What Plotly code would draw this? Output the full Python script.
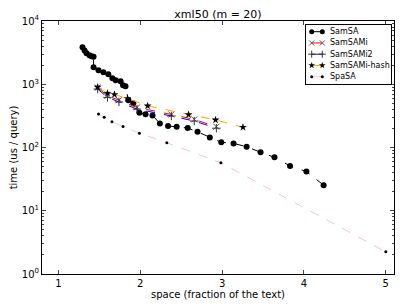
import plotly.graph_objects as go

# SamSA
samsa_x = [1.295, 1.32, 1.344, 1.38, 1.405, 1.43, 1.43, 1.49, 1.55, 1.61, 1.66, 1.70, 1.76, 1.79, 1.82,
           1.855, 1.915, 1.99, 2.065, 2.15, 2.24, 2.34, 2.445, 2.58, 2.70, 2.85, 2.99, 3.14, 3.30,
           3.47, 3.64, 3.83, 4.03, 4.24]
samsa_y = [3830, 3430, 3080, 2865, 2760, 2710, 1850, 1660, 1545, 1436, 1243, 1157, 1115, 964, 930,
           560, 502, 353, 337, 322, 240, 218, 213, 203, 177, 144, 121, 116, 103,
           84, 70, 51, 41.6, 25.4]

# SamSAMi
sami_x = [1.48, 1.60, 1.74, 1.96, 2.38, 2.66, 2.93]
sami_y = [887, 655, 560, 430, 333, 278, 213]

# SamSAMi2
sami2_x = [1.48, 1.60, 1.74, 1.96, 2.38, 2.66, 2.93]
sami2_y = [840, 620, 525, 405, 315, 262, 202]

# SamSAMi-hash
hash_x = [1.48, 1.60, 1.685, 1.845, 2.09, 2.59, 2.92, 3.255]
hash_y = [900, 720, 689, 595, 455, 331, 273, 209]

# SpaSA
spa_x = [1.49, 1.56, 1.655, 1.79, 1.99, 2.325, 2.985, 5.0]
spa_y = [339, 300, 256, 214, 168, 119, 57.4, 2.24]

series_names = ["SamSA", "SamSAMi", "SamSAMi2", "SamSAMi-hash", "SpaSA"]

x_ticks = [1, 2, 3, 4, 5]
y_ticks = [1, 10, 100, 1000, 10000]
y_ticklabels = ["10<sup>0</sup>", "10<sup>1</sup>", "10<sup>2</sup>", "10<sup>3</sup>", "10<sup>4</sup>"]

font = "DejaVu Sans"

styles = [
    dict(line=dict(color="black", dash="dash", width=1),
         marker=dict(symbol="circle", size=6, color="black")),
    dict(line=dict(color="red", dash="dash", width=1),
         marker=dict(symbol="x-thin", size=6, color="#555555", line=dict(width=1, color="#555555"))),
    dict(line=dict(color="blue", dash="dash", width=1),
         marker=dict(symbol="cross-thin", size=6, color="#333333", line=dict(width=1, color="#333333"))),
    dict(line=dict(color="orange", dash="dash", width=1),
         marker=dict(symbol="star", size=6, color="black")),
    dict(line=dict(color="pink", dash="dash", width=1),
         marker=dict(symbol="circle", size=3, color="black")),
]
data = [(samsa_x, samsa_y), (sami_x, sami_y), (sami2_x, sami2_y), (hash_x, hash_y), (spa_x, spa_y)]

fig = go.Figure()
for (xs, ys), name, st in zip(data, series_names, styles):
    fig.add_trace(go.Scatter(x=xs, y=ys, name=name, mode="lines+markers",
                             showlegend=False, **st))

# compact legend drawn in an inset axis (coordinates = legend-box pixels)
for i, (name, st) in enumerate(zip(series_names, styles)):
    row = 6.7 + i * 11.25
    leg_line = dict(st["line"])
    leg_line["dash"] = "solid"
    leg_marker = dict(st["marker"])
    leg_marker["size"] = max(3, st["marker"]["size"] - 1)
    fig.add_trace(go.Scatter(x=[5.7, 16.3], y=[row, row], mode="lines+markers",
                             line=leg_line, marker=leg_marker,
                             xaxis="x2", yaxis="y2", showlegend=False, hoverinfo="skip"))
    fig.add_annotation(x=24, y=row, xref="x2", yref="y2", text=name, showarrow=False,
                       xanchor="left", yanchor="middle", xshift=-2,
                       font=dict(size=8, family=font))

W, H = 407, 305
SHIFT = 8  # page body margin
L, R, T, B = 42, 394, 21, 274  # plot box in page pixels
fw, fh = W - SHIFT, H - SHIFT
LX0, LX1, LY0, LY1 = 306, 391, 25, 84  # legend box in page pixels

fig.update_layout(
    width=fw, height=fh,
    margin=dict(l=L - SHIFT, r=W - R, t=T - SHIFT, b=H - B, autoexpand=False),
    paper_bgcolor="white", plot_bgcolor="white",
    font=dict(family=font, size=10, color="black"),
    title=dict(text="xml50 (m = 20)", xref="paper", x=0.5, xanchor="center",
               yref="container", y=1 - (14.5 - SHIFT) / fh, yanchor="middle",
               font=dict(size=11, family=font)),
    showlegend=False,
    xaxis2=dict(domain=[(LX0 - L) / (R - L), (LX1 - L) / (R - L)], range=[0, LX1 - LX0],
                anchor="y2", showline=True, mirror=True, linecolor="black", linewidth=1,
                showticklabels=False, ticks="", showgrid=False, zeroline=False, fixedrange=True),
    yaxis2=dict(domain=[(B - LY1) / (B - T), (B - LY0) / (B - T)], range=[LY1 - LY0, 0],
                anchor="x2", showline=True, mirror=True, linecolor="black", linewidth=1,
                showticklabels=False, ticks="", showgrid=False, zeroline=False, fixedrange=True),
    xaxis=dict(range=[0.8, 5.1], tickvals=x_ticks, ticks="inside", ticklen=4,
               showline=True, linecolor="black", linewidth=1, mirror="ticks",
               showgrid=False, zeroline=False, automargin=False,
               title=dict(text="space (fraction of the text)", font=dict(size=10), standoff=1),
               tickfont=dict(size=10)),
    yaxis=dict(type="log", range=[0, 4], tickvals=y_ticks, ticktext=y_ticklabels,
               ticks="inside", ticklen=4,
               minor=dict(tickvals=[m * 10 ** e for e in range(0, 4) for m in range(2, 10)],
                          ticks="inside", ticklen=2, showgrid=False),
               showline=True, linecolor="black", linewidth=1, mirror="ticks",
               showgrid=False, zeroline=False, automargin=False,
               title=dict(text="time (us / query)", font=dict(size=10), standoff=6),
               tickfont=dict(size=10)),
)

fig.write_html("out.html")
